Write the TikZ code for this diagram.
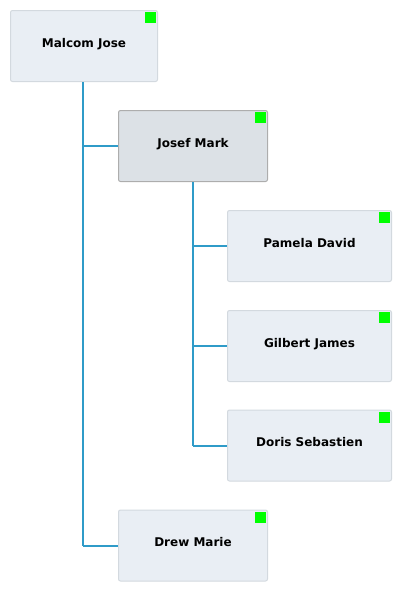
\documentclass[tikz,border=0pt]{standalone}
\usepackage{fontspec}
\setmainfont{DejaVu Sans}
\definecolor{boxfill}{HTML}{E9EEF4}
\definecolor{boxline}{HTML}{D3D9DF}
\definecolor{selfill}{HTML}{DCE1E6}
\definecolor{selline}{HTML}{ADADAD}
\definecolor{wire}{HTML}{2F9BC8}
\definecolor{flag}{HTML}{00FF00}
\newcommand{\pname}[1]{\raisebox{6.5pt}{#1}}
\begin{document}
\begin{tikzpicture}[x=1pt,y=-1pt,
  person/.style={draw=boxline,fill=boxfill,line width=1pt,rounded corners=2pt,minimum width=#1,minimum height=71pt,inner sep=0pt,font=\fontsize{12}{14}\selectfont\bfseries},
  person/.default=147pt,
  chosen/.style={draw=selline,fill=selfill},
  wireline/.style={draw=wire,line width=2pt},
  flagbox/.style={fill=flag,minimum size=11pt,inner sep=0pt}]
\useasboundingbox (0,0) rectangle (402,589);
\node[person=147pt,anchor=north west] (mj) at (10,10) {\pname{Malcom Jose}};
\node[person=149pt,chosen,anchor=north west] (jm) at (118,110) {\pname{Josef Mark}};
\node[person=164pt,anchor=north west] (pd) at (227,210) {\pname{Pamela David}};
\node[person=164pt,anchor=north west] (gj) at (227,310) {\pname{Gilbert James}};
\node[person=164pt,anchor=north west] (ds) at (227,409.5) {\pname{Doris Sebastien}};
\node[person=149pt,anchor=north west] (dm) at (118,509.5) {\pname{Drew Marie}};
\foreach \n in {mj,jm,pd,gj,ds,dm}{
  \node[flagbox,anchor=north east] (f\n) at ([xshift=-2pt,yshift=-2pt]\n.north east) {};
}
\coordinate (t1) at (83,0);
\coordinate (t2) at (193,0);
\draw[wireline] (mj.south -| t1) -- (dm.west -| t1);
\draw[wireline] (jm.west -| t1) -- (jm.west);
\draw[wireline] (dm.west -| t1) -- (dm.west);
\draw[wireline] (jm.south -| t2) -- (ds.west -| t2);
\draw[wireline] (pd.west -| t2) -- (pd.west);
\draw[wireline] (gj.west -| t2) -- (gj.west);
\draw[wireline] (ds.west -| t2) -- (ds.west);
\end{tikzpicture}
\end{document}
